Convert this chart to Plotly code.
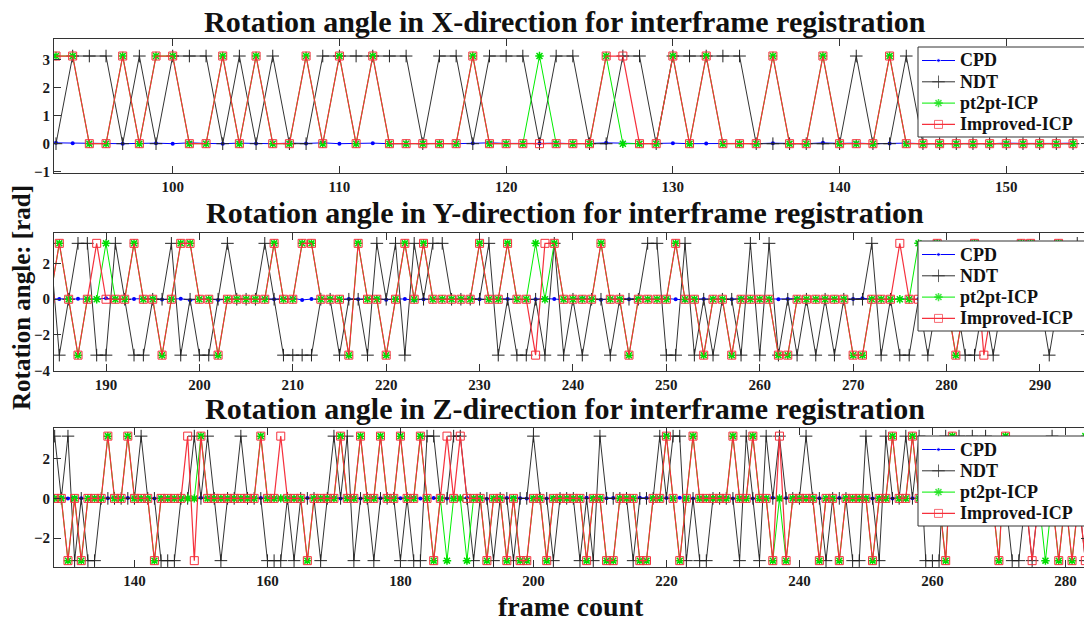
import plotly.graph_objects as go

P = 3.14
N = -3.14

# ---------------- Panel 1 : X-direction (frames 93..154) ----------------
frames_x = list(range(93, 155))
cpd_x = [0.03, 0.02, 0.01, 0.02, 0.0, 0.01, 0.02, 0.0, 0.03, 0.01,
         0.0, 0.02, 0.01, 0.0, 0.02, 0.01, 0.03, 0.0, 0.01, 0.02,
         0.0, 0.01, 0.02, 0.01, 0.0, 0.02, 0.03, 0.01, 0.0, 0.01,
         0.02, 0.0, 0.01, 0.03, 0.02, 0.0, 0.01, 0.02, 0.0, 0.01,
         0.02, 0.01, 0.0, 0.02, 0.01, 0.0, 0.03, 0.01, 0.02, 0.0,
         0.01, 0.02, 0.0, 0.01, 0.02, 0.01, 0.0, 0.02, 0.01, 0.0,
         0.01, 0.02]
ndt_x = [0, P, P, P, 0, P, 0, P, P, P,
         0, P, 0, P, 0, 0, P, P, P, P,
         P, P, 0, P, P, 0, P, P, P, 0,
         P, P, 0, 0, P, P, 0, P, P, P,
         P, P, 0, 0, 0, 0, 0, 0, P, 0,
         0, P, 0, 0, 0, 0, 0, 0, 0, 0,
         0, 0]
pt2pt_x = [P, P, 0, 0, P, 0, P, P, 0, 0,
           P, 0, P, 0, 0, P, 0, P, 0, P,
           0, 0, 0, 0, 0, P, 0, 0, 0, P,
           0, 0, 0, P, 0, 0, 0, P, 0, P,
           0, 0, 0, P, 0, 0, P, 0, 0, 0,
           P, 0, 0, 0, 0, 0, 0, 0, 0, 0,
           0, 0]
icp_x = [P, P, 0, 0, P, 0, P, P, 0, 0,
         P, 0, P, 0, 0, P, 0, P, 0, P,
         0, 0, 0, 0, 0, P, 0, 0, 0, 0,
         0, 0, 0, P, P, 0, 0, P, 0, P,
         0, 0, 0, P, 0, 0, P, 0, 0, 0,
         P, 0, 0, 0, 0, 0, 0, 0, 0, 0,
         0, 0]

# ---------------- Panel 2 : Y-direction (frames 184..295) ----------------
frames_y = list(range(184, 296))
cpd_y = [0.02, 0.01, 0.0, 0.03, -0.02, 0.01, 0.05, 0.0, -0.03, 0.02,
         0.01, 0.04, -0.02, 0.0, 0.03, -0.05, 0.01, 0.02, -0.04, 0.0,
         0.02, 0.01, -0.03, 0.03, 0.0, 0.02, 0.06, -0.04, 0.01, 0.0,
         0.03, -0.02, 0.02, 0.0, 0.01, 0.04, -0.03, 0.02, 0.01, -0.05,
         0.0, 0.03, 0.02, -0.02, 0.01, 0.05, 0.0, -0.02, 0.03, 0.01,
         0.02, -0.03, 0.0, 0.04, 0.01, -0.02, 0.03, 0.06, 0.0, -0.03,
         0.02, 0.01, 0.0, 0.03, -0.02, 0.01, 0.04, 0.0, -0.04, 0.02,
         0.01, 0.03, -0.02, 0.0, 0.05, 0.02, -0.03, 0.01, 0.0, 0.02,
         0.04, -0.02, 0.01, 0.03, 0.0, -0.03, 0.02, 0.05, 0.01, 0.0,
         -0.02, 0.03, 0.01, 0.02, -0.04, 0.0, 0.03, 0.01, -0.02, 0.02,
         0.0, 0.04, 0.01, -0.03, 0.02, 0.0, 0.03, -0.02, 0.01, 0.02,
         0.0, 0.01]
ndt_y = [P, N, 0, P, P, N, N, P, 0, N,
         N, 0, 0, P, N, 0, N, N, 0, P,
         0, 0, 0, P, 0, N, N, N, N, 0,
         0, N, 0, 0, N, P, 0, P, N, P,
         0, P, P, 0, 0, 0, 0, P, N, 0,
         N, N, 0, N, P, N, 0, N, 0, 0,
         N, 0, 0, 0, P, P, N, N, P, N,
         0, N, 0, 0, N, P, N, P, N, 0,
         N, 0, N, 0, N, 0, 0, 0, P, N,
         0, N, N, 0, N, 0, 0, 0, N, N,
         0, N, 0, 0, 0, 0, 0, N, 0, 0,
         P, P]
pt2pt_y = [0, P, 0, N, 0, 0, P, 0, 0, P,
           0, 0, N, 0, P, P, 0, 0, N, 0,
           0, 0, 0, 0, P, 0, 0, P, P, 0,
           0, 0, N, P, 0, 0, N, 0, P, 0,
           P, 0, 0, 0, 0, 0, P, 0, 0, P,
           0, 0, P, 0, P, 0, 0, 0, 0, P,
           0, 0, N, 0, 0, 0, 0, P, 0, 0,
           N, 0, 0, N, 0, 0, 0, 0, N, N,
           0, 0, 0, 0, 0, 0, N, N, 0, 0,
           0, 0, 0, P, 0, P, 0, N, 0, P,
           0, 0, 0, 0, P, P, 0, 0, P, 0,
           0, 0]
icp_y = [0, P, 0, N, 0, P, 0, 0, 0, P,
         0, 0, N, 0, P, P, 0, 0, N, 0,
         0, 0, 0, 0, P, 0, 0, P, P, 0,
         0, 0, N, P, 0, 0, N, 0, P, 0,
         P, 0, 0, 0, 0, 0, P, 0, 0, P,
         0, 0, N, P, P, 0, 0, 0, 0, P,
         0, 0, N, 0, 0, 0, 0, P, 0, 0,
         N, 0, 0, N, 0, 0, 0, 0, N, N,
         0, 0, 0, 0, 0, 0, N, N, 0, 0,
         0, P, 0, 0, 0, P, 0, N, 0, P,
         N, 0, 0, 0, P, P, 0, 0, P, 0,
         0, 0]

# ---------------- Panel 3 : Z-direction (frames 128..283) ----------------
frames_z = list(range(128, 284))
cpd_z = [0.01, 0.02, 0.0, 0.03, 0.01, -0.02, 0.02, 0.0, 0.01, 0.03,
         0.0, 0.02, 0.01, -0.01, 0.02, 0.0, 0.03, 0.01, 0.0, 0.02,
         0.01, 0.0, 0.03, 0.02, -0.01, 0.01, 0.02, 0.0, 0.01, 0.03,
         0.0, 0.02, 0.01, 0.0, 0.02, 0.03, 0.01, -0.02, 0.02, 0.0,
         0.01, 0.03, 0.02, 0.0, 0.01, 0.02, -0.01, 0.0, 0.03, 0.01,
         0.02, 0.0, 0.01, 0.02, 0.03, 0.0, -0.01, 0.02, 0.01, 0.0,
         0.02, 0.01, 0.03, 0.0, 0.02, -0.02, 0.01, 0.0, 0.02, 0.03,
         0.01, 0.0, 0.02, 0.01, -0.01, 0.03, 0.0, 0.02, 0.01, 0.0,
         0.03, 0.02, 0.0, 0.01, 0.02, -0.02, 0.01, 0.0, 0.03, 0.02,
         0.0, 0.01, 0.02, 0.0, 0.03, 0.01, -0.01, 0.02, 0.0, 0.01,
         0.02, 0.03, 0.0, 0.01, 0.02, 0.0, -0.02, 0.01, 0.03, 0.0,
         0.02, 0.01, 0.0, 0.02, 0.03, 0.01, 0.0, -0.01, 0.02, 0.01,
         0.0, 0.03, 0.02, 0.0, 0.01, 0.02, 0.0, 0.03, -0.02, 0.01,
         0.02, 0.0, 0.01, 0.03, 0.0, 0.02, 0.01, -0.01, 0.02, 0.0,
         0.01, 0.02, 0.03, 0.0, 0.01, 0.02, 0.0, 0.01, -0.02, 0.03,
         0.0, 0.02, 0.01, 0.0, 0.02, 0.01]
ndt_z = [P, 0, P, N, 0, N, N, 0, 0, 0,
         0, 0, 0, P, 0, 0, N, N, N, 0,
         0, P, 0, P, 0, N, 0, 0, P, 0,
         0, 0, N, N, N, 0, N, 0, 0, 0,
         N, 0, P, 0, P, N, 0, 0, N, 0,
         0, 0, N, 0, N, N, P, P, 0, 0,
         P, P, 0, N, 0, 0, N, 0, 0, N,
         0, 0, P, 0, 0, N, 0, 0, 0, N,
         0, N, P, 0, 0, 0, 0, N, 0, 0,
         0, P, 0, P, P, N, 0, N, N, 0,
         0, 0, 0, N, P, 0, N, P, 0, P,
         0, 0, 0, P, 0, 0, N, 0, 0, 0,
         N, N, P, 0, N, P, 0, 0, P, 0,
         P, N, N, N, P, 0, P, 0, P, 0,
         P, 0, 0, 0, N, N, 0, N, 0, 0,
         P, 0, 0, 0, 0, N]
pt2pt_z = [0, 0, N, 0, N, 0, 0, 0, P, 0,
           0, P, 0, 0, 0, N, 0, 0, 0, 0,
           0, 0, P, 0, 0, 0, 0, 0, 0, 0,
           0, P, 0, 0, 0, 0, 0, 0, N, 0,
           0, 0, 0, P, 0, 0, P, 0, 0, P,
           0, 0, P, 0, 0, P, 0, N, 0, N,
           0, 0, N, 0, 0, N, 0, 0, N, 0,
           N, N, 0, 0, N, 0, 0, 0, 0, 0,
           N, 0, 0, N, N, 0, 0, 0, N, N,
           0, 0, P, 0, N, 0, P, 0, 0, 0,
           0, 0, P, 0, 0, P, 0, 0, N, 0,
           N, 0, 0, 0, 0, N, 0, 0, N, 0,
           0, 0, 0, N, 0, 0, P, 0, 0, P,
           0, 0, 0, 0, N, P, 0, 0, 0, 0,
           0, 0, N, P, 0, 0, 0, 0, 0, N,
           0, N, 0, N, 0, P]
icp_z = [0, 0, N, 0, N, 0, 0, 0, P, 0,
         0, P, 0, 0, 0, N, 0, 0, 0, 0,
         P, N, P, 0, 0, 0, 0, 0, 0, 0,
         0, P, 0, 0, P, 0, 0, 0, N, 0,
         0, 0, 0, P, 0, 0, P, 0, 0, P,
         0, 0, P, 0, 0, P, 0, N, 0, P,
         0, P, 0, 0, 0, N, 0, 0, N, 0,
         N, N, 0, 0, N, 0, 0, 0, 0, 0,
         N, 0, 0, N, N, 0, 0, 0, N, N,
         0, 0, P, 0, N, 0, P, 0, 0, 0,
         0, 0, P, 0, 0, P, 0, 0, N, P,
         N, 0, 0, 0, 0, N, 0, 0, N, 0,
         0, 0, 0, N, 0, 0, P, 0, 0, P,
         0, 0, 0, 0, N, P, 0, 0, 0, 0,
         0, 0, N, P, 0, 0, 0, N, 0, 0,
         0, N, 0, N, 0, N]

for arr, fr in [(cpd_x, frames_x), (ndt_x, frames_x), (pt2pt_x, frames_x), (icp_x, frames_x),
                (cpd_y, frames_y), (ndt_y, frames_y), (pt2pt_y, frames_y), (icp_y, frames_y),
                (cpd_z, frames_z), (ndt_z, frames_z), (pt2pt_z, frames_z), (icp_z, frames_z)]:
    assert len(arr) == len(fr), (len(arr), len(fr))

titles = ["Rotation angle in X-direction for interframe registration",
          "Rotation angle in Y-direction for interframe registration",
          "Rotation angle in Z-direction for interframe registration"]
series_names = ["CPD", "NDT", "pt2pt-ICP", "Improved-ICP"]

# The page body has a default 8px margin, so the figure is drawn 8px in from
# the window's top-left corner; size the figure to fill the rest of the window.
WIN_W, WIN_H, OFF = 1092, 621, 8
W, H = WIN_W - OFF, WIN_H - OFF
SERIF = "Liberation Serif"


def px(xwin):
    return (xwin - OFF) / W


def py(ywin):
    return 1 - (ywin - OFF) / H


panels = [
    dict(frames=frames_x, data=[cpd_x, ndt_x, pt2pt_x, icp_x], top=39, bot=173,
         xr=[92.88, 154.9], yr=[-1.05, 3.75], xt0=100, xdt=10, yt0=-1, ydt=1, leg_top=47, title_y=21),
    dict(frames=frames_y, data=[cpd_y, ndt_y, pt2pt_y, icp_y], top=233, bot=371,
         xr=[184.43, 295.15], yr=[-4.03, 3.72], xt0=190, xdt=10, yt0=0, ydt=2, leg_top=241, title_y=213),
    dict(frames=frames_z, data=[cpd_z, ndt_z, pt2pt_z, icp_z], top=428, bot=567,
         xr=[127.9, 283.4], yr=[-3.46, 3.55], xt0=140, xdt=20, yt0=0, ydt=2, leg_top=436, title_y=408),
]

RED = "#f5303c"
styles = [
    dict(line=dict(color="#0000ff", width=1),
         marker=dict(symbol="circle", size=4, color="#0000ff")),
    dict(line=dict(color="#333333", width=1),
         marker=dict(symbol="cross-thin", size=9, color="#222222",
                     line=dict(color="#222222", width=1))),
    dict(line=dict(color="#00ee00", width=1),
         marker=dict(symbol="asterisk", size=7, color="#00dd00",
                     line=dict(color="#00dd00", width=1.5))),
    dict(line=dict(color=RED, width=1.2),
         marker=dict(symbol="square-open", size=8, color=RED,
                     line=dict(color=RED, width=1))),
]

fig = go.Figure()
tickfont = dict(family=SERIF, size=15, color="#1a1a1a", weight="bold")
layout = dict(width=W, height=H, margin=dict(l=0, r=0, t=0, b=0),
              plot_bgcolor="rgba(0,0,0,0)", paper_bgcolor="white", showlegend=False)
annotations = []

for i, p in enumerate(panels):
    sfx = "" if i == 0 else str(i + 1)
    for name, vals, st in zip(series_names, p["data"], styles):
        fig.add_trace(go.Scatter(x=p["frames"], y=vals, name=name, mode="lines+markers",
                                 line=st["line"], marker=st["marker"],
                                 xaxis="x" + sfx, yaxis="y" + sfx, hoverinfo="x+y+name"))
    dom_y = [py(p["bot"]), py(p["top"])]
    layout["xaxis" + sfx] = dict(domain=[px(54), px(1088)], range=p["xr"], anchor="y" + sfx,
                                 tick0=p["xt0"], dtick=p["xdt"], ticks="inside", ticklen=7,
                                 tickcolor="#333", showline=True, linecolor="#333", linewidth=1,
                                 mirror="ticks", showgrid=False, zeroline=False,
                                 tickfont=tickfont, automargin=False)
    layout["yaxis" + sfx] = dict(domain=dom_y, range=p["yr"], anchor="x" + sfx,
                                 tick0=p["yt0"], dtick=p["ydt"], ticks="inside", ticklen=7,
                                 tickcolor="#333", showline=True, linecolor="#333", linewidth=1,
                                 mirror="ticks", showgrid=False, zeroline=False,
                                 tickfont=tickfont, automargin=False)
    annotations.append(dict(text=titles[i], x=px(565), y=py(p["title_y"]),
                            xref="paper", yref="paper", xanchor="center", yanchor="middle",
                            showarrow=False,
                            font=dict(family=SERIF, size=30, color="#111", weight="bold")))

# ---- legends drawn on a window-pixel overlay axis (x4/y4) ----
layout["xaxis4"] = dict(domain=[0, 1], range=[OFF, WIN_W], visible=False, fixedrange=True, anchor="y4")
layout["yaxis4"] = dict(domain=[0, 1], range=[WIN_H, OFF], visible=False, fixedrange=True, anchor="x4")
LEG_L, LEG_R, LEG_H = 918, 1086, 90
for p in panels:
    T = p["leg_top"]
    fig.add_trace(go.Scatter(x=[LEG_L, LEG_R, LEG_R, LEG_L, LEG_L], y=[T, T, T + LEG_H, T + LEG_H, T],
                             mode="lines", fill="toself", fillcolor="white",
                             line=dict(color="#333", width=1), hoverinfo="skip",
                             xaxis="x4", yaxis="y4"))
    for k, (name, st) in enumerate(zip(series_names, styles)):
        yk = T + 13.5 + 21.3 * k
        mk = dict(st["marker"])
        mk["size"] = [0, st["marker"]["size"], 0]
        fig.add_trace(go.Scatter(x=[922, 938.5, 955], y=[yk, yk, yk], mode="lines+markers",
                                 line=st["line"], marker=mk, hoverinfo="skip",
                                 xaxis="x4", yaxis="y4"))
        annotations.append(dict(text=name, x=px(958), y=py(yk),
                                xref="paper", yref="paper", xanchor="left", yanchor="middle",
                                showarrow=False,
                                font=dict(family=SERIF, size=18, color="#111", weight="bold")))

annotations.append(dict(text="frame count", x=px(571), y=py(606),
                        xref="paper", yref="paper", xanchor="center", yanchor="middle",
                        showarrow=False,
                        font=dict(family=SERIF, size=28, color="#111", weight="bold")))
annotations.append(dict(text="Rotation angle: [rad]", x=px(21), y=py(298),
                        xref="paper", yref="paper", xanchor="center", yanchor="middle",
                        showarrow=False, textangle=-90,
                        font=dict(family=SERIF, size=25, color="#111", weight="bold")))
layout["annotations"] = annotations
fig.update_layout(**layout)
fig.write_html("out.html")
